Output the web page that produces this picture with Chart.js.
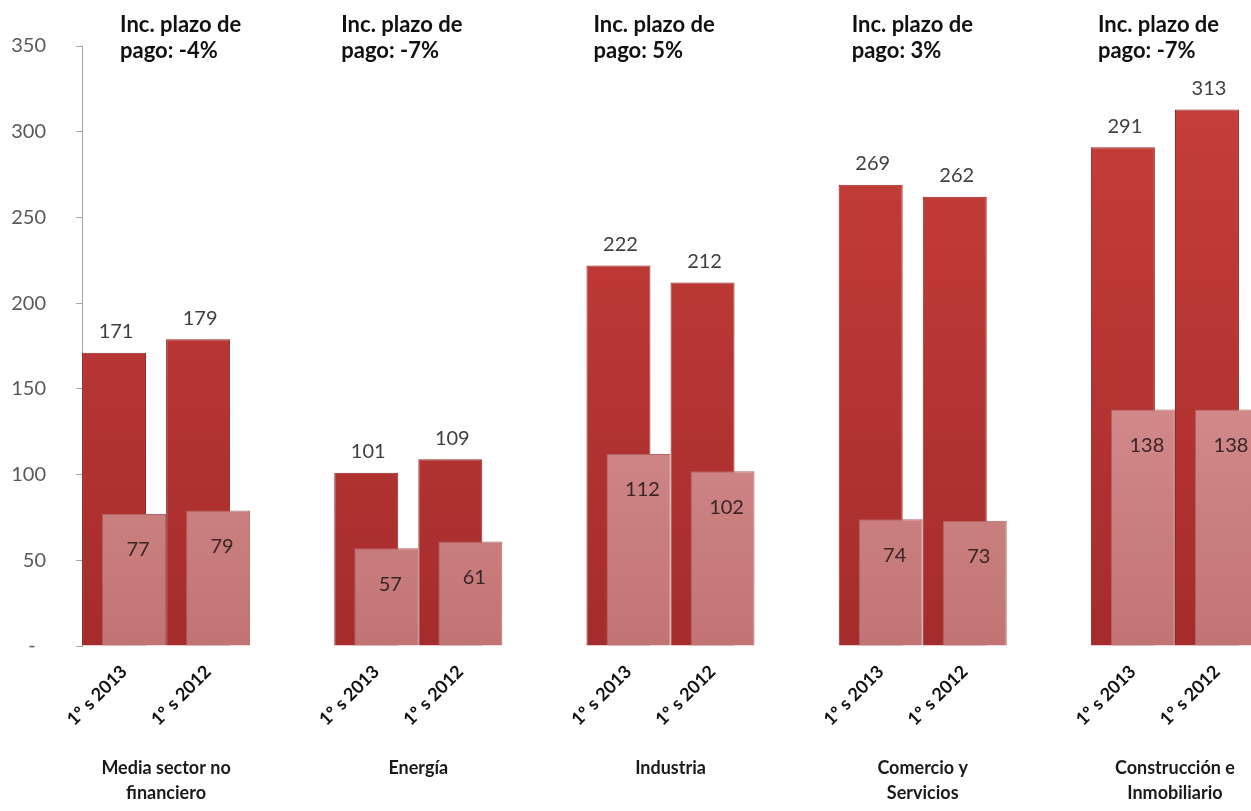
<!DOCTYPE html>
<html><head><meta charset="utf-8">
<script src="https://cdn.jsdelivr.net/npm/chart.js@4.4.1/dist/chart.umd.min.js"></script>
<style>
html,body{margin:0;padding:0;background:#fff;overflow:hidden;}
#wrap{width:1262px;height:811px;position:relative;}
</style></head><body>
<div id="wrap"><canvas id="c"></canvas></div>
<script>
// ---- data ----
const periods = ['1º s 2013', '1º s 2012'];
const sectors = [['Media sector no', 'financiero'], ['Energía'], ['Industria'], ['Comercio y', 'Servicios'], ['Construcción e', 'Inmobiliario']];
const darkValues = [171, 179, 101, 109, 222, 212, 269, 262, 291, 313];
const lightValues = [77, 79, 57, 61, 112, 102, 74, 73, 138, 138];
const paymentChange = ['-4%', '-7%', '5%', '3%', '-7%'];
const yTicks = [0, 50, 100, 150, 200, 250, 300, 350];

// ---- build category table (two periods per sector, empty slot between sectors) ----
const labels = [], darkData = [], lightData = [];
sectors.forEach((s, g) => {
  periods.forEach((p, k) => {
    labels.push(p);
    darkData.push(darkValues[g * 2 + k]);
    lightData.push(lightValues[g * 2 + k]);
  });
  if (g < sectors.length - 1) { labels.push(''); darkData.push(null); lightData.push(null); }
});

// layout tweaks for note text boxes (px nudge from default)
const noteNudge = [31, 0, 0, 6, 0];

function grad(chart, top, bottom) {
  const a = chart.chartArea;
  if (!a) return top;
  const g = chart.ctx.createLinearGradient(0, a.top, 0, a.bottom);
  g.addColorStop(0, top);
  g.addColorStop(1, bottom);
  return g;
}

const overlay = {
  id: 'overlay',
  beforeDatasetDraw(chart, args) { if (args.index === 1) return false; },
  afterDatasetsDraw(chart) {
    const ctx = chart.ctx;
    const area = chart.chartArea;
    const m0 = chart.getDatasetMeta(0), m1 = chart.getDatasetMeta(1);
    ctx.save(); m1.controller.draw(); ctx.restore();

    ctx.save();
    ctx.textAlign = 'center'; ctx.textBaseline = 'middle';
    ctx.font = '20px Lato';
    m0.data.forEach((el, i) => {
      const v = chart.data.datasets[0].data[i];
      if (v == null) return;
      ctx.fillStyle = '#404040';
      ctx.fillText(String(v), el.x + 2, el.y - 21);
    });
    m1.data.forEach((el, i) => {
      const v = chart.data.datasets[1].data[i];
      if (v == null) return;
      ctx.fillStyle = '#3a2424';
      ctx.fillText(String(v), el.x + 4, el.y + 36);
    });

    // sector names below the period labels
    const xs = chart.scales.x;
    ctx.font = 'bold 18px Lato';
    ctx.fillStyle = '#1a1a1a';
    sectors.forEach((lines, g) => {
      const cx = (xs.getPixelForValue(g * 3) + xs.getPixelForValue(g * 3 + 1)) / 2;
      lines.forEach((t, k) => ctx.fillText(t, cx, area.bottom + 122 + k * 25));
    });

    // notes at the top
    ctx.textAlign = 'left'; ctx.textBaseline = 'alphabetic';
    ctx.font = 'bold 22px Lato';
    ctx.fillStyle = '#111111';
    paymentChange.forEach((p, g) => {
      const el = m0.data[g * 3];
      const left = el.x - el.width / 2 + 7 + noteNudge[g];
      ctx.fillText('Inc. plazo de', left, area.top - 14);
      ctx.fillText('pago: ' + p, left, area.top + 12);
    });
    ctx.restore();
  }
};

new Chart(document.getElementById('c'), {
  type: 'bar',
  data: {
    labels: labels,
    datasets: [
      {
        label: 'Serie 1',
        data: darkData,
        backgroundColor: c => grad(c.chart, '#c9403a', '#a52c2c'),
        borderColor: '#8e2424',
        borderWidth: 1,
        categoryPercentage: 0.4757,
        barPercentage: 3.2
      },
      {
        label: 'Serie 2',
        data: lightData,
        backgroundColor: c => grad(c.chart, '#e6a8a8', '#c27474'),
        borderColor: '#b06464',
        borderWidth: 1,
        categoryPercentage: 0.4757,
        barPercentage: 3.2
      }
    ]
  },
  options: {
    responsive: true,
    maintainAspectRatio: false,
    animation: false,
    layout: { padding: { top: 46, left: 0, right: 3, bottom: 0 } },
    plugins: { legend: { display: false }, title: { display: false }, tooltip: { enabled: false } },
    scales: {
      x: {
        grid: { display: false, drawTicks: false },
        border: { display: false },
        ticks: {
          autoSkip: false, maxRotation: 45, minRotation: 45, padding: 15,
          font: { family: 'Lato', weight: 'bold', size: 18 }, color: '#111111'
        },
        afterFit: s => { s.height = 165; }
      },
      y: {
        min: 0, max: 350,
        grid: { drawOnChartArea: false, drawTicks: true, tickLength: 6, color: '#a6a6a6' },
        border: { display: true, color: '#a6a6a6' },
        afterBuildTicks: s => { s.ticks = yTicks.map(v => ({ value: v })); },
        ticks: {
          padding: 30,
          font: { family: 'Lato', size: 20 }, color: '#595959',
          callback: v => v === 0 ? '-  ' : String(v)
        },
        afterFit: s => { s.width = 82; }
      }
    }
  },
  plugins: [overlay]
});
</script>
</body></html>
